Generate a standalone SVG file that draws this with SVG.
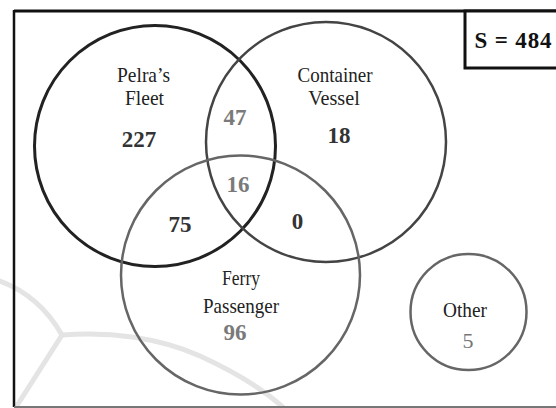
<svg xmlns="http://www.w3.org/2000/svg" width="556" height="408" viewBox="0 0 556 408">
<style>
.lbl{font-family:"Liberation Serif","Times New Roman",serif;font-size:21px;fill:#222;text-anchor:middle}
.num{font-family:"Liberation Serif","Times New Roman",serif;font-size:23px;font-weight:bold;text-anchor:middle}
.dk{fill:#333}
.gr{fill:#7a7a7a}
.set{fill:none}
.wm{fill:none;stroke:#e4e4e4;stroke-width:5;stroke-linecap:round}
</style>
<rect x="0" y="0" width="556" height="408" fill="#fff"/>
<g id="watermark">
<path class="wm" d="M0,281 Q40,296 62,335"/>
<path class="wm" d="M62,335 C110,331 160,338 200,356 C235,372 262,388 284,408"/>
<path class="wm" d="M62,335 L18,404" stroke-width="3"/>
</g>
<g id="frame">
<line x1="14" y1="11" x2="556" y2="11" stroke="#111" stroke-width="3"/>
<line x1="14" y1="10" x2="14" y2="407" stroke="#111" stroke-width="2.5"/>
<line x1="14" y1="407" x2="556" y2="407" stroke="#777" stroke-width="2"/>
</g>
<g id="total">
<rect x="465" y="11" width="100" height="57" fill="#fff" stroke="#111" stroke-width="3"/>
<text x="513" y="48" class="num" style="font-size:23px;fill:#111" textLength="77">S = 484</text>
</g>
<g id="pelras-fleet">
<circle class="set" cx="155" cy="146" r="120.5" stroke="#222" stroke-width="3"/>
<text class="lbl" x="143.5" y="82" textLength="53" lengthAdjust="spacingAndGlyphs">Pelra’s</text>
<text class="lbl" x="144.5" y="105" textLength="39" lengthAdjust="spacingAndGlyphs">Fleet</text>
<text class="num dk" x="139" y="147">227</text>
</g>
<g id="container-vessel">
<circle class="set" cx="326" cy="142" r="120" stroke="#444" stroke-width="2.5"/>
<text class="lbl" x="335" y="82" textLength="75" lengthAdjust="spacingAndGlyphs">Container</text>
<text class="lbl" x="334" y="105" textLength="51.5" lengthAdjust="spacingAndGlyphs">Vessel</text>
<text class="num dk" x="339" y="143">18</text>
</g>
<g id="ferry-passenger">
<circle class="set" cx="240.5" cy="275" r="119.5" stroke="#666" stroke-width="2.5"/>
<text class="lbl" x="241" y="285" textLength="38" lengthAdjust="spacingAndGlyphs">Ferry</text>
<text class="lbl" x="241" y="313" textLength="76" lengthAdjust="spacingAndGlyphs">Passenger</text>
<text class="num gr" x="235" y="340">96</text>
</g>
<g id="intersections">
<text class="num gr" x="235" y="125">47</text>
<text class="num gr" x="238" y="192">16</text>
<text class="num dk" x="180" y="232">75</text>
<text class="num dk" x="297.5" y="229">0</text>
</g>
<g id="other">
<circle class="set" cx="468.5" cy="312" r="58" stroke="#666" stroke-width="2.5"/>
<text class="lbl" x="465" y="317" textLength="44" lengthAdjust="spacingAndGlyphs">Other</text>
<text class="lbl" x="468" y="348" style="fill:#777;font-size:22px">5</text>
</g>
<g id="connectors"></g>
</svg>
